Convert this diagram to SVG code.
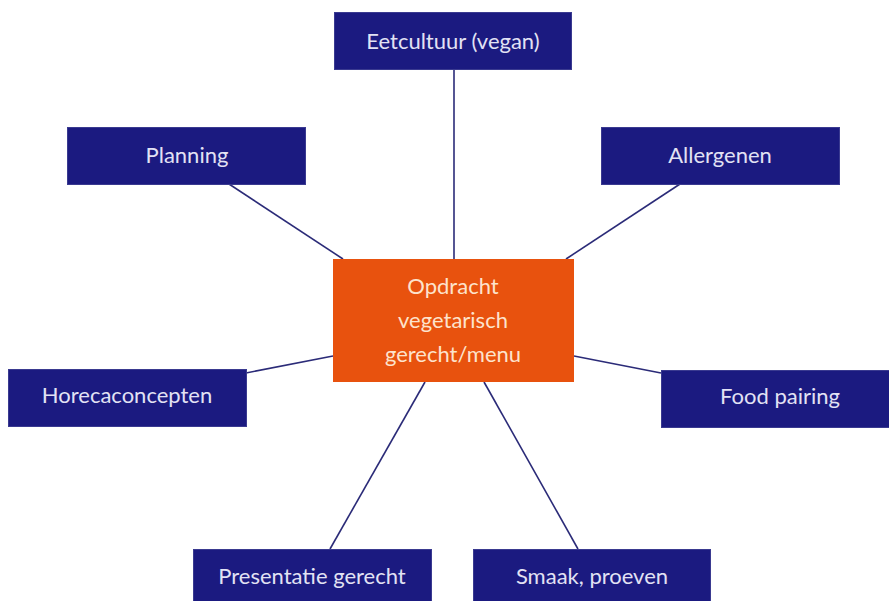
<svg xmlns="http://www.w3.org/2000/svg" width="889" height="601" viewBox="0 0 889 601">
<style>
.n rect{fill:#1b1a80;stroke:#3a3a90;stroke-width:1}
.n text{fill:#e2e2f4;font-family:Lato,"Open Sans",sans-serif;font-size:22px;text-anchor:middle}
.c rect{fill:#e8520e}
.c text{fill:#fde3cc;font-family:Lato,"Open Sans",sans-serif;font-size:22px;text-anchor:middle}
#connectors line{stroke:#2b2b78;stroke-width:1.6}
</style>
<rect width="889" height="601" fill="#ffffff"/>
<g id="connectors">
<line x1="454" y1="69" x2="454" y2="259"/>
<line x1="229" y1="184" x2="343" y2="259"/>
<line x1="680" y1="184" x2="566" y2="259"/>
<line x1="246" y1="373" x2="333" y2="356"/>
<line x1="661" y1="373" x2="574" y2="356"/>
<line x1="330" y1="549" x2="425" y2="382"/>
<line x1="578" y1="549" x2="484" y2="382"/>
</g>
<g id="eetcultuur" class="n"><rect x="334.5" y="12.5" width="237" height="57"/><text x="453" y="49">Eetcultuur (vegan)</text></g>
<g id="planning" class="n"><rect x="67.5" y="127.5" width="238" height="57"/><text x="187" y="163">Planning</text></g>
<g id="allergenen" class="n"><rect x="601.5" y="127.5" width="238" height="57"/><text x="720" y="163">Allergenen</text></g>
<g id="center" class="c"><rect x="333" y="259" width="241" height="123"/><text x="453" y="294">Opdracht</text><text x="453" y="328">vegetarisch</text><text x="453" y="362">gerecht/menu</text></g>
<g id="horecaconcepten" class="n"><rect x="8.5" y="369.5" width="238" height="57"/><text x="127" y="403">Horecaconcepten</text></g>
<g id="foodpairing" class="n"><rect x="661.5" y="370.5" width="230" height="57"/><text x="780" y="404">Food pairing</text></g>
<g id="presentatie" class="n"><rect x="193.5" y="549.5" width="238" height="60"/><text x="312" y="584">Presentatie gerecht</text></g>
<g id="smaak" class="n"><rect x="473.5" y="549.5" width="237" height="60"/><text x="592" y="584">Smaak, proeven</text></g>
</svg>
